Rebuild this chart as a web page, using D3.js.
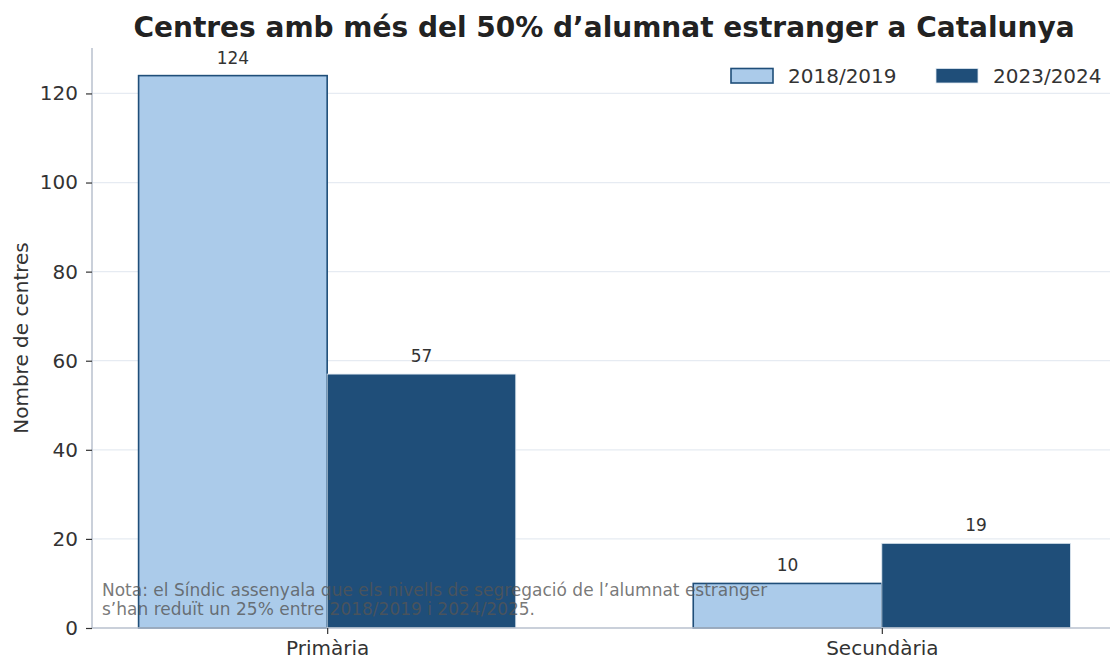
<!DOCTYPE html>
<html><head><meta charset="utf-8">
<script src="https://cdn.jsdelivr.net/npm/d3@7"></script>
<style>body{margin:0;background:#fff;}svg{display:block;font-family:"DejaVu Sans",sans-serif;}</style>
</head><body>
<svg id="c" width="1110" height="659"></svg>
<script>
const categories = ["Primària", "Secundària"];
const seriesNames = ["2018/2019", "2023/2024"];
const values2018 = [124, 10];
const values2023 = [57, 19];
const yTicks = [0, 20, 40, 60, 80, 100, 120];
const title = "Centres amb més del 50% d’alumnat estranger a Catalunya";
const yLabel = "Nombre de centres";
const noteLines = ["Nota: el Síndic assenyala que els nivells de segregació de l’alumnat estranger",
                   "s’han reduït un 25% entre 2018/2019 i 2024/2025."];

(function () {
const light = "#abcbea", dark = "#1f4e79";
const svg = d3.select("#c");
const mLeft = 92, mRight = 1117, mTop = 48, mBottom = 628;
const barW = 0.34;
const x = d3.scaleLinear().domain([-0.424, 1.424]).range([mLeft, mRight]);
const y = d3.scaleLinear().domain([0, 130.2]).range([mBottom, mTop]);

// grid
svg.append("g").selectAll("line").data(yTicks.filter(d => d > 0)).join("line")
  .attr("x1", mLeft).attr("x2", 1110).attr("y1", d => y(d)).attr("y2", d => y(d))
  .attr("stroke", "#e6ebf2").attr("stroke-width", 1.3);

// bars
const series = [values2018, values2023];
series.forEach((vals, si) => {
  svg.append("g").selectAll("rect").data(vals).join("rect")
    .attr("x", (d, i) => x(i + (si === 0 ? -barW : 0)))
    .attr("width", x(barW) - x(0))
    .attr("y", d => y(d))
    .attr("height", d => y(0) - y(d))
    .attr("fill", si === 0 ? light : dark)
    .attr("stroke", si === 0 ? dark : "#dce6f0")
    .attr("stroke-width", si === 0 ? 1.6 : 0.8);
  svg.append("g").selectAll("text").data(vals).join("text")
    .attr("x", (d, i) => x(i + (si === 0 ? -barW / 2 : barW / 2)))
    .attr("y", d => y(d) - 12)
    .attr("text-anchor", "middle").attr("font-size", 17).attr("fill", "#333")
    .text(d => d);
});

// axes
const yAxis = d3.axisLeft(y).tickValues(yTicks).tickSize(6).tickPadding(8);
const gy = svg.append("g").attr("transform", `translate(${mLeft},0)`).call(yAxis);
gy.select(".domain").attr("stroke", "#b8c0ce").attr("stroke-width", 1.5).attr("d", `M0,${mTop}V${mBottom}`);
gy.selectAll(".tick line").attr("stroke", "#333").attr("stroke-width", 1.2);
gy.selectAll(".tick text").attr("font-size", 20).attr("fill", "#333").attr("font-family", "DejaVu Sans");

const xAxis = d3.axisBottom(x).tickValues([0, 1]).tickFormat(i => categories[i]).tickSize(6).tickPadding(7);
const gx = svg.append("g").attr("transform", `translate(0,${mBottom})`).call(xAxis);
gx.select(".domain").attr("stroke", "#b8c0ce").attr("stroke-width", 1.5).attr("d", `M${mLeft},0H1110`);
gx.selectAll(".tick line").attr("stroke", "#333").attr("stroke-width", 1.2);
gx.selectAll(".tick text").attr("font-size", 20).attr("fill", "#333").attr("font-family", "DejaVu Sans");

// y label
svg.append("text").attr("transform", `translate(28,${(mTop + mBottom) / 2}) rotate(-90)`)
  .attr("text-anchor", "middle").attr("font-size", 20).attr("fill", "#333").text(yLabel);

// title
svg.append("text").attr("x", 604).attr("y", 37).attr("text-anchor", "middle")
  .attr("font-size", 28).attr("font-weight", "bold").attr("fill", "#222").text(title);

// legend
const leg = svg.append("g");
const legItems = [{x: 731, fill: light, stroke: dark, sw: 1.6}, {x: 936, fill: dark, stroke: "#dce6f0", sw: 0.8}];
legItems.forEach((it, i) => {
  leg.append("rect").attr("x", it.x).attr("y", 68.5).attr("width", 42).attr("height", 14.5)
    .attr("fill", it.fill).attr("stroke", it.stroke).attr("stroke-width", it.sw);
  leg.append("text").attr("x", it.x + 57).attr("y", 83).attr("font-size", 20).attr("fill", "#333").text(seriesNames[i]);
});

// note
svg.append("g").selectAll("text").data(noteLines).join("text")
  .attr("x", 102).attr("y", (d, i) => 596 + i * 19)
  .attr("font-size", 17).attr("fill", "#555").attr("fill-opacity", 0.8).text(d => d);
})();
</script>
</body></html>
